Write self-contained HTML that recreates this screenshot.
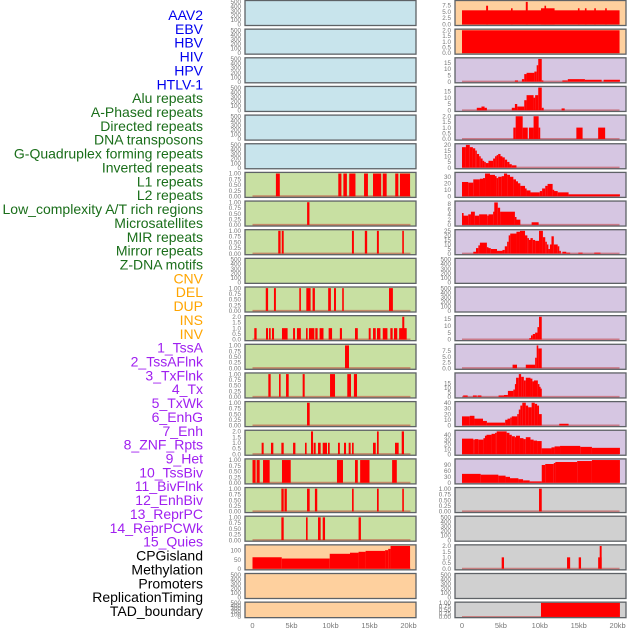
<!DOCTYPE html>
<html><head><meta charset="utf-8">
<style>
html,body{margin:0;padding:0;background:#fff;}
#wrap{position:relative;width:630px;height:630px;overflow:hidden;}
svg{position:absolute;left:0;top:0;}
</style></head>
<body>
<div id="wrap">
<svg id="chart" width="630" height="630" viewBox="0 0 630 630"></svg>
</div>
<script>
// ---- labels ----
const labelTexts = ["AAV2","EBV","HBV","HIV","HPV","HTLV-1","Alu repeats","A-Phased repeats","Directed repeats","DNA transposons","G-Quadruplex forming repeats","Inverted repeats","L1 repeats","L2 repeats","Low_complexity A/T rich regions","Microsatellites","MIR repeats","Mirror repeats","Z-DNA motifs","CNV","DEL","DUP","INS","INV","1_TssA","2_TssAFlnk","3_TxFlnk","4_Tx","5_TxWk","6_EnhG","7_Enh","8_ZNF_Rpts","9_Het","10_TssBiv","11_BivFlnk","12_EnhBiv","13_ReprPC","14_ReprPCWk","15_Quies","CPGisland","Methylation","Promoters","ReplicationTiming","TAD_boundary"];
const labelGroups = [0,0,0,0,0,0,1,1,1,1,1,1,1,1,1,1,1,1,1,2,2,2,2,2,3,3,3,3,3,3,3,3,3,3,3,3,3,3,3,4,4,4,4,4];
const groupColors = ["#0000ee","#1a6e1a","#ffa500","#a020f0","#000000"];

// ---- x axis ----
const xTickValues = [0,5,10,15,20];
const xTickLabels = ["0","5kb","10kb","15kb","20kb"];

// ---- panel backgrounds ----
const leftBg = ["b","b","b","b","b","b","g","g","g","g","g","g","g","g","g","g","g","g","g","o","o","o"];
const rightBg = ["o","o","p","p","p","p","p","p","p","p","p","p","p","p","p","p","p","y","y","y","y","y"];
// ---- y maxima (null = empty panel, 0..500 axis) ----
const leftMax = [null,null,null,null,null,null,1,1,1,null,1,2,1,1,1,2,1,1,1,125,null,null];
const leftStep = [0,0,0,0,0,0,0.25,0.25,0.25,0,0.25,0.5,0.25,0.25,0.25,0.5,0.25,0.25,0.25,50,0,0];
const rightMax = [8.9,2,18,18,2,20,35,8.6,25,null,null,16.5,9.8,25,40,47,115,1,null,2,null,1];
const rightStep = [2.5,0.5,5,5,0.5,5,10,2,5,0,0,5,2.5,5,10,10,30,0.25,0,0.5,0,0.25];
const rightTickTop = [7.5,2,15,15,2,20,30,8,25,0,0,15,7.5,15,40,40,90,1,0,2,0,1];

// ---- data: [startKb, endKb, value] ----
const L6 = [[3.0,3.5,1],[11.0,11.4,1],[11.65,12.1,1],[12.4,13.2,1],[14.3,14.8,1],[15.45,16.5,1],[16.7,17.2,1],[18.3,18.7,1],[18.9,20.2,1]];
const L7 = [[7.0,7.3,1]];
const L8 = [[3.3,3.6,1],[3.75,4.0,1],[12.75,13.0,1],[14.4,14.7,1],[15.95,16.2,1],[19.2,19.4,1]];
const L10 = [[1.7,2.0,1],[2.75,3.0,1],[6.0,6.2,1],[6.9,7.45,1],[7.7,8.0,1],[9.7,10.05,1],[10.45,10.7,1],[11.5,11.7,1],[17.5,18.0,1]];
const L11 = [[0.23,0.53,1],[1.73,1.99,1],[2.12,2.33,1],[2.5,2.76,1],[3.78,4.5,1],[5.2,5.45,1],[5.7,6.2,1],[6.86,7.07,1],[7.24,7.93,1],[8.05,8.35,1],[8.6,9.1,1],[9.76,10.2,1],[11.2,11.47,1],[13.14,13.5,1],[14.9,15.15,1],[15.45,15.8,1],[15.96,16.4,1],[16.7,17.3,1],[17.67,17.97,1],[18.14,18.56,1],[18.8,19.77,1],[19.2,19.46,2]];
const L12 = [[11.86,12.37,1]];
const L13 = [[2.03,2.33,1],[3.4,3.6,1],[4.3,4.64,1],[6.43,6.69,1],[9.94,10.58,1],[12.15,12.63,1],[13.0,13.4,1]];
const L14 = [[6.99,7.33,1]];
const L15 = [[1.17,1.43,1],[2.37,2.67,1],[3.7,4.0,1],[5.2,5.5,1],[6.73,6.94,1],[7.5,7.76,2],[7.84,8.1,1],[8.4,8.74,1],[9.0,9.55,1],[9.68,9.9,1],[10.96,11.2,1],[11.73,11.99,1],[12.33,12.58,1],[12.76,12.97,1],[15.45,15.8,1],[15.96,16.18,2],[18.27,18.74,1],[19.13,19.42,2]];
const L16 = [[0,0.4,1],[0.53,0.92,1],[1.35,2.2,1],[3.78,4.9,1],[10.83,11.6,1],[13.14,13.5,1],[13.8,15.0,1],[17.9,18.5,1]];
const L17 = [[3.7,4.0,1],[4.1,4.4,1],[6.99,7.33,1],[8.0,8.3,1],[12.76,12.97,1],[15.96,16.18,1],[19.2,19.4,1]];
const L18 = [[3.7,4.0,1],[6.86,7.07,1],[8.4,8.74,1],[9.0,9.3,1],[13.6,13.9,1]];
const L19 = [[0,3.75,63],[3.75,9.9,56],[9.9,12.5,82],[12.5,13.6,88],[13.6,14.5,93],[14.5,17.0,98],[17.0,17.4,102],[17.4,17.7,109],[17.7,20.2,125]];

const R0 = [[0,20.25,5.5],[3.1,3.35,7.3],[6.3,6.5,6.3],[8.2,8.45,8.8],[10.15,11.9,6.3],[10.6,10.8,7.3],[14.9,15.1,6.3],[15.8,16.0,6.3],[17.0,17.2,6.3],[18.4,18.6,6.3]];
const R1 = [[0,20.25,2]];
const R2 = [[6.8,7.2,1],[7.7,8.0,2],[8.0,8.3,6],[8.3,9.3,7],[9.3,9.6,8],[9.6,9.8,13],[9.8,10.25,18],[10.25,10.4,1],[12.9,13.6,1],[13.6,15.1,2],[15.1,15.8,2],[15.8,17.95,1.5],[18.2,20.3,1.5]];
const R3 = [[1.9,2.5,2],[2.5,2.9,3],[2.9,3.2,2],[6.4,6.8,2],[6.8,7.1,5],[7.1,8.0,3],[8.0,8.3,8],[8.3,9.2,12],[9.2,9.4,10],[9.4,9.8,12],[9.8,10.25,18],[10.25,10.5,2],[12.8,13.2,1.5]];
const R4 = [[6.6,6.9,1],[6.9,7.8,2],[7.8,8.45,1],[8.6,9.2,1],[9.2,9.85,2],[9.85,10.0,1],[14.7,15.5,1],[17.5,18.4,1]];
const R5 = [[0,0.5,18],[0.5,1.0,20],[1.0,1.4,18],[1.4,1.7,17],[1.7,1.9,15],[1.9,2.2,12],[2.2,2.4,10],[2.4,2.65,8],[2.65,2.85,6],[2.85,3.05,5],[3.05,3.4,4],[3.4,4.0,6],[4.0,4.25,8],[4.25,4.45,10],[4.45,4.65,11],[4.65,4.95,12],[4.95,5.2,10],[5.2,5.5,9],[5.5,5.8,7],[5.8,6.1,5],[6.1,6.4,3],[6.4,7.0,2]];
const R6 = [[0,0.8,22],[0.8,1.45,21],[1.45,2.3,26],[2.3,2.7,27],[2.7,2.96,28],[2.96,3.6,35],[3.6,4.24,33],[4.24,4.45,31],[4.45,4.65,28],[4.65,5.1,30],[5.1,5.4,31],[5.4,5.8,35],[5.8,6.17,33],[6.17,6.6,30],[6.6,6.94,26],[6.94,7.2,23],[7.2,7.5,20],[7.5,8.1,16],[8.1,8.3,12],[8.3,8.8,9],[8.8,10.0,6],[10.0,10.3,8],[10.3,10.7,12],[10.7,11.0,16],[11.0,11.65,19],[11.65,11.8,10],[11.8,12.3,8],[12.3,13.7,6],[13.7,20.3,3]];
const R7 = [[0,0.15,4.5],[0.15,0.8,3.5],[0.8,1.15,4],[1.15,1.65,5],[1.65,2.2,3.5],[2.2,3.25,4],[3.25,3.4,3.5],[3.4,4.0,4],[4.0,4.15,5],[4.15,4.6,8.5],[4.6,4.9,6.5],[4.9,6.8,5],[6.8,7.0,3],[7.0,7.5,2],[8.95,9.85,1]];
const R8 = [[1.45,1.8,2],[1.8,2.1,6],[2.1,2.3,9],[2.3,3.2,12],[3.2,3.4,7],[3.4,3.7,6],[3.7,4.5,5],[4.5,5.2,3],[5.2,5.5,4],[5.5,5.8,8],[5.8,6.0,13],[6.0,6.2,20],[6.2,7.0,22],[7.0,7.45,24],[7.45,8.1,25],[8.1,8.4,20],[8.4,8.6,17],[8.6,8.8,15],[8.8,9.1,17],[9.1,9.4,15],[9.4,9.9,14],[9.9,10.4,25],[10.4,10.7,18],[10.7,10.9,13],[10.9,11.1,10],[11.1,11.3,5],[11.3,11.5,10],[11.5,11.8,19],[11.8,12.3,10],[12.3,12.5,8],[12.5,12.7,3],[12.9,13.4,2],[13.4,13.9,1],[14.95,15.5,1],[17.0,17.8,1]];
const R11 = [[8.65,8.87,1],[8.87,9.1,3],[9.1,9.4,4],[9.4,9.7,5],[9.7,9.9,9],[9.9,10.25,16.5]];
const R12 = [[6.5,7.07,1.5],[8.2,9.4,1.5],[9.4,9.6,4.5],[9.6,9.8,9.8],[9.8,10.25,8.5]];
const R13 = [[0.15,0.73,1.5],[1.4,1.9,1.5],[2.0,2.5,1.5],[4.7,5.4,1.5],[5.4,5.9,2],[5.9,6.6,6.5],[6.6,6.8,8],[6.8,6.95,14],[6.95,7.3,21],[7.3,7.6,25],[7.6,7.95,22],[7.95,8.2,18],[8.2,8.8,21],[8.8,9.05,20],[9.05,9.25,17],[9.25,9.75,18],[9.75,9.9,14],[9.9,10.05,11],[10.05,10.25,9]];
const R14 = [[0,1.0,16],[1.0,1.6,17],[1.6,2.7,12],[2.7,3.2,8],[3.2,5.55,5],[5.55,5.85,10],[5.85,6.2,12],[6.2,6.4,14],[6.4,7.1,16],[7.1,7.3,20],[7.3,7.5,28],[7.5,7.75,35],[7.75,8.2,40],[8.2,8.5,35],[8.5,8.95,32],[8.95,9.35,40],[9.35,9.65,38],[9.65,9.9,35],[9.9,10.25,20],[12.5,13.7,3]];
const R15 = [[0,1.45,32],[1.45,1.65,30],[1.65,2.1,31],[2.1,2.75,30],[2.75,2.95,33],[2.95,3.15,38],[3.15,3.8,40],[3.8,4.25,42],[4.25,4.46,44],[4.46,5.74,47],[5.74,6.1,44],[6.1,6.4,40],[6.4,6.8,37],[6.8,6.94,35],[6.94,7.45,38],[7.45,7.9,33],[7.9,8.2,31],[8.2,8.8,35],[8.8,9.2,30],[9.2,9.65,28],[9.65,10.24,27],[10.24,11.5,12],[11.5,11.9,14],[11.9,12.6,16],[12.6,15.2,17],[15.2,16.7,15],[16.7,20.3,13]];
const R16 = [[0,2.4,45],[2.4,4.67,41],[4.67,5.6,36],[5.6,6.17,30],[6.17,7.25,23],[7.25,7.85,18],[7.85,8.7,12],[8.7,10.25,7],[10.25,10.7,90],[10.7,11.8,95],[11.8,12.0,100],[12.0,14.8,105],[14.8,16.7,110],[16.7,20.3,115]];
const R17 = [[9.9,10.25,1]];
const R19 = [[5.1,5.4,1],[13.5,13.9,1],[15.0,15.3,1],[17.5,17.95,1],[17.7,17.95,2]];
const R21 = [[10.15,20.3,1]];

const leftData = [null,null,null,null,null,null,L6,L7,L8,null,L10,L11,L12,L13,L14,L15,L16,L17,L18,L19,null,null];
const rightData = [R0,R1,R2,R3,R4,R5,R6,R7,R8,null,null,R11,R12,R13,R14,R15,R16,R17,null,R19,null,R21];

// ---- drawing ----
const NS = "http://www.w3.org/2000/svg";
const svg = document.getElementById("chart");
const bgColors = {b:"#c8e4ec", g:"#c8e0a2", o:"#fed09e", p:"#d6c6e2", y:"#d0d0d0"};
const colX = [{x0:245, x1:416, z:252.5, k:7.8, tx:241}, {x0:455, x1:626, z:462, k:7.78, tx:451}];
function rowTop(i){ return 0.5 + i*28.65; }
function rowH(i){ return i===21 ? 15.5 : 25; }
function mk(tag, attrs){ const e=document.createElementNS(NS,tag); for(const a in attrs) e.setAttribute(a, attrs[a]); svg.appendChild(e); return e; }
function fmt(v, step){
  if(step===0.25) return v.toFixed(2);
  if(step===0.5 || step===2.5) return v.toFixed(1);
  return String(Math.round(v));
}

labelTexts.forEach((t,i)=>{
  const e = mk("text",{x:203, y:15+i*13.86+5, "text-anchor":"end", "font-family":"Liberation Sans, sans-serif", "font-size":"14", fill:groupColors[labelGroups[i]]});
  e.textContent = t;
  
  
});

function drawPanel(side, i, bgKey, maxV, step, data, tickTop){
  const c = colX[side];
  const top = rowTop(i), h = rowH(i);
  const bg = mk("rect",{x:c.x0, y:top, width:c.x1-c.x0, height:h, fill:bgColors[bgKey]});
  
  
  let ymin, ymax, ticks=[];
  if(maxV===null){ ymin=-25; ymax=525; for(let v=0; v<=500; v+=100) ticks.push(v); step=100; }
  else {
    ymin=-0.05*maxV; ymax=1.05*maxV;
    const lim = (tickTop!==undefined && tickTop>0) ? tickTop : maxV;
    for(let v=0; v<=lim+1e-9; v+=step) ticks.push(v);
  }
  const yS = v => top + h - (v-ymin)/(ymax-ymin)*h;
  const xS = kb => c.z + kb*c.k;
  if(data){
    const zl = mk("line",{x1:xS(0), x2:xS(20.25), y1:yS(0), y2:yS(0), stroke:"rgba(190,30,30,0.45)", "stroke-width":"2"});
    
    
    data.forEach(d=>{
      const x = xS(d[0]); let w = xS(d[1])-x; if(w<1.6) w=1.6;
      const y = yS(d[2]);
      const r = mk("rect",{x:x, y:y, width:w, height:Math.max(0,yS(0)-y), fill:"#ff0000"});
      
      
    });
  }
  const fr = mk("rect",{x:c.x0, y:top, width:c.x1-c.x0, height:h, fill:"none", stroke:"#5e6266", "stroke-width":"1.3"});
  
  
  ticks.forEach(v=>{
    const t = mk("text",{x:c.tx, y:yS(v)+2.2, "text-anchor":"end", "font-family":"Liberation Sans, sans-serif", "font-size":"6.3", fill:"#777"});
    t.textContent = fmt(v, step);
    
    
  });
}
for(let i=0;i<22;i++){
  drawPanel(0, i, leftBg[i], leftMax[i], leftStep[i], leftData[i]);
  drawPanel(1, i, rightBg[i], rightMax[i], rightStep[i], rightData[i], rightTickTop[i]);
}
[0,1].forEach(s=>{
  const c = colX[s];
  xTickValues.forEach((v,j)=>{
    const t = mk("text",{x:c.z+v*c.k, y:628, "text-anchor":"middle", "font-family":"Liberation Sans, sans-serif", "font-size":"7.5", fill:"#777"});
    t.textContent = xTickLabels[j];
    
    
  });
});
</script>
</body></html>
